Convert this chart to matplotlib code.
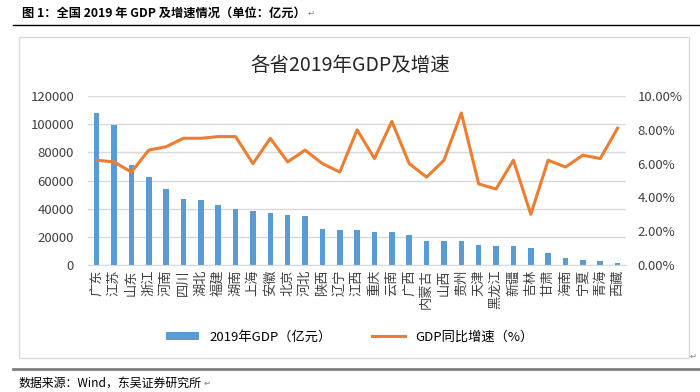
import matplotlib
matplotlib.use("Agg")
import matplotlib.pyplot as plt
from matplotlib.patches import Rectangle
from matplotlib.lines import Line2D
from matplotlib.text import Annotation
from matplotlib.ticker import FuncFormatter

plt.rcParams['font.family'] = ['Noto Sans CJK SC', 'DejaVu Sans']

provinces = ['广东', '江苏', '山东', '浙江', '河南', '四川', '湖北', '福建', '湖南', '上海',
             '安徽', '北京', '河北', '陕西', '辽宁', '江西', '重庆', '云南', '广西', '内蒙古',
             '山西', '贵州', '天津', '黑龙江', '新疆', '吉林', '甘肃', '海南', '宁夏', '青海', '西藏']
gdp = [107671, 99632, 71068, 62352, 54259, 46616, 45828, 42395, 39752, 38155,
       37114, 35371, 35104, 25793, 24909, 24758, 23606, 23224, 21237, 17213,
       17027, 16769, 14104, 13613, 13597, 11727, 8718, 5309, 3748, 2966, 1698]
growth = [6.2, 6.1, 5.5, 6.8, 7.0, 7.5, 7.5, 7.6, 7.6, 6.0,
          7.5, 6.1, 6.8, 6.0, 5.5, 8.0, 6.3, 8.5, 6.0, 5.2,
          6.2, 9.0, 4.8, 4.5, 6.2, 3.0, 6.2, 5.8, 6.5, 6.3, 8.1]

bar_color = '#5B9BD5'
line_color = '#ED7D31'
grid_color = '#D9D9D9'

fig = plt.figure(figsize=(7, 3.92), dpi=100)


def para_mark(t):
    # Word paragraph mark right after a text
    fig.add_artist(Annotation('↵', xy=(1, 0.15), xycoords=t, xytext=(1.5, 0),
                              textcoords='offset points', fontsize=6, color='#808080',
                              va='bottom', ha='left'))


# page decoration
cap = fig.text(0.031, 0.967, '图 1：全国 2019 年 GDP 及增速情况（单位：亿元）', fontsize=8.8,
               fontweight='bold', va='center', ha='left')
para_mark(cap)
fig.add_artist(Line2D([0.019, 1.0], [0.936, 0.936], color='black', lw=1))
fig.add_artist(Rectangle((0.027, 0.087), 0.957, 0.819, fill=False,
                         edgecolor=grid_color, lw=1))
fig.text(0.985, 0.09, '↵', fontsize=6, color='#808080', va='center', ha='left')
fig.add_artist(Line2D([0.019, 1.0], [0.059, 0.059], color='#7F7F7F', lw=2))
src = fig.text(0.027, 0.023, '数据来源：Wind，东吴证券研究所', fontsize=8.6, va='center', ha='left')
para_mark(src)

ax = fig.add_axes([0.1257, 0.324, 0.769, 0.431])
ax2 = ax.twinx()

x = range(len(provinces))
ax.bar(x, gdp, width=0.32, color=bar_color, zorder=2, label='2019年GDP（亿元）')
ax2.plot(x, [g / 100 for g in growth], color=line_color, lw=2.2, label='GDP同比增速（%）')

ax.set_xlim(-0.5, len(provinces) - 0.5)
ax.set_ylim(0, 120000)
ax.set_yticks(range(0, 120001, 20000))
ax2.set_ylim(0, 0.10)
ax2.set_yticks([0, 0.02, 0.04, 0.06, 0.08, 0.10])
ax2.yaxis.set_major_formatter(FuncFormatter(lambda v, p: '%.2f%%' % (v * 100)))

ax.set_xticks(list(x))
ax.set_xticklabels(provinces, rotation=90, fontsize=9.5, va='top')
ax.yaxis.grid(True, color=grid_color, lw=1, zorder=0)
ax.set_axisbelow(True)

for a in (ax, ax2):
    for s in a.spines.values():
        s.set_visible(False)
    a.tick_params(length=0, labelsize=9.5, colors='#404040')
ax.spines['bottom'].set_visible(True)
ax.spines['bottom'].set_color(grid_color)
ax.tick_params(axis='y', pad=10)
ax2.tick_params(axis='y', pad=8)
ax.tick_params(axis='x', pad=3)

fig.text(0.5, 0.834, '各省2019年GDP及增速', fontsize=14, ha='center', va='center', color='#262626')

h1, l1 = ax.get_legend_handles_labels()
h2, l2 = ax2.get_legend_handles_labels()
fig.legend(h1 + h2, l1 + l2, loc='center', bbox_to_anchor=(0.5, 0.14), ncol=2,
           frameon=False, fontsize=9.5, handlelength=2.5, columnspacing=3,
           handleheight=0.5)

fig.savefig('out.png', dpi=100)
